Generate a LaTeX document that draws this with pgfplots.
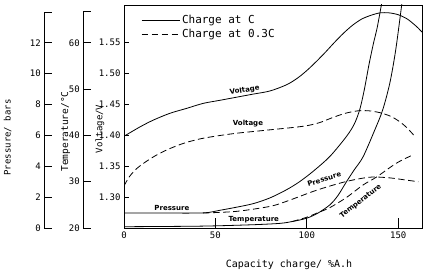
\documentclass[border=0pt]{standalone}
\usepackage{pgfplots}
\pgfplotsset{compat=1.18}
\usepackage{fontspec}
\setmainfont{DejaVu Sans Mono}
\newfontfamily\lab{DejaVu Sans}

\pgfplotsset{
  base/.style={scale only axis, anchor=south west,
    /pgf/number format/assume math mode=true,
    tick label style={font=\fontsize{9}{10}\selectfont},
    axis line style={line width=0.8pt}, every tick/.style={line width=0.8pt, black}},
  side/.style={base, width=20pt, hide x axis, axis y line=left,
    y axis line style={-}, xmin=0, xmax=1, tick align=inside, major tick length=8pt,
    extra y tick labels={}, clip=false},
  hidden/.style={scale only axis, anchor=south west, at={(124pt,43pt)}, width=298pt, height=223pt,
    xmin=0, xmax=163, hide axis},
  dashedline/.style={black, line width=0.8pt, smooth, dash pattern=on 6.5pt off 3.5pt},
  solidline/.style={black, line width=0.8pt, smooth},
}

\begin{document}
\begin{tikzpicture}
\useasboundingbox (0pt,0pt) rectangle (428pt,271pt);

% pressure axis
\begin{axis}[side, at={(44.3pt,43pt)}, height=216pt, ymin=0, ymax=14,
  ytick={0,2,4,6,8,10,12}, extra y ticks={14}]
\addplot[draw=none] coordinates {(0,0)};
\end{axis}

% temperature axis
\begin{axis}[side, at={(83.3pt,43pt)}, height=216.3pt, ymin=20, ymax=66.7,
  ytick={20,30,40,50,60}, extra y ticks={66.7}]
\addplot[draw=none] coordinates {(0,20)};
\end{axis}

% pressure curves
\begin{axis}[hidden, ymin=0, ymax=14.46]
\addplot[solidline] coordinates {
(0,0.97)(20,0.97)(43.3,0.98)(52.5,1.15)(61.6,1.35)(70.7,1.58)(79.8,1.95)(88.9,2.48)
(96,3.0)(103.4,3.67)(112.6,4.64)(121.7,5.94)(126,6.75)(129,7.7)(131.5,9.0)(134,10.6)
(136.5,12.0)(138.5,13.0)(140.8,14.48)(141.5,15.0)};
\addplot[dashedline] coordinates {
(43.3,0.97)(61.6,1.08)(79.8,1.40)(88.9,1.73)(103.4,2.37)(112.6,2.72)(121.7,3.02)
(130,3.22)(136.3,3.31)(145.4,3.25)(153.6,3.12)(161,3.0)};
\end{axis}

% temperature curves
\begin{axis}[hidden, ymin=20, ymax=68.16]
\addplot[solidline] coordinates {
(0,20.28)(41.5,20.4)(70,20.7)(85.2,21.0)(92,21.4)(99.8,22.1)(106,23.2)(112.6,25.0)
(117,27.0)(121.7,30.0)(126,32.6)(130.8,35.4)(137.2,41.2)(141.5,45.5)(145.4,51.3)
(148.6,58.4)(151.9,68.2)(152.3,69.5)};
\addplot[dashedline] coordinates {
(92,21.4)(99.8,22.3)(106,23.3)(112.6,24.4)(121.7,26.6)(130.8,29.3)(138.1,31.0)
(149,34.0)(158.1,35.8)};
\end{axis}

% main (voltage) axis
\begin{axis}[base, at={(124pt,43pt)}, width=298pt, height=223pt,
  xmin=0, xmax=163, ymin=1.25, ymax=1.6097,
  xtick={0,50,100,150}, ytick={1.30,1.35,1.40,1.45,1.50,1.55},
  yticklabel style={/pgf/number format/.cd, fixed, fixed zerofill, precision=2},
  tick pos=left, tick align=inside, major tick length=5pt,
  legend style={draw=none, fill=none, at={(0.047,0.972)}, anchor=north west,
    font=\fontsize{11}{13}\selectfont},
  legend cell align=left,
  legend image code/.code={\draw[#1] (0pt,0pt) -- (38pt,0pt);}]
\addplot[solidline] coordinates {
(0,1.398)(8.7,1.413)(16,1.424)(25.1,1.435)(34.3,1.443)(43.3,1.451)(52.5,1.456)
(61.6,1.461)(70.7,1.466)(79.8,1.471)(88.9,1.481)(95,1.492)(100,1.504)(105,1.518)
(110,1.533)(115,1.549)(120,1.564)(125,1.577)(130,1.587)(135,1.593)(140,1.597)
(145,1.597)(150,1.594)(155,1.587)(160,1.575)(163,1.566)};
\addlegendentry{Charge at C}
\addplot[dashedline] coordinates {
(0,1.318)(3,1.333)(7,1.346)(12,1.357)(18,1.368)(25,1.378)(33,1.387)(42,1.394)
(52,1.399)(62,1.403)(72,1.406)(82,1.409)(92,1.412)(100,1.415)(107,1.420)(114,1.428)
(121,1.435)(128,1.439)(134,1.439)(140,1.436)(146,1.430)(151,1.421)(155,1.411)(159,1.398)};
\addlegendentry{Charge at 0.3C}
\begin{scope}[every node/.style={font=\lab\bfseries\fontsize{7}{8}\selectfont, inner sep=0pt}]
\node[rotate=9] at (axis cs:66,1.472) {Voltage};
\node at (axis cs:67.8,1.419) {Voltage};
\node at (axis cs:26.2,1.283) {Pressure};
\node at (axis cs:71,1.264) {Temperature};
\node[rotate=17] at (axis cs:109.5,1.329) {Pressure};
\node[rotate=38] at (axis cs:129.5,1.293) {Temperature};
\end{scope}
\end{axis}

% longer x ticks
\begin{axis}[base, at={(124pt,43pt)}, width=298pt, height=223pt,
  xmin=0, xmax=163, ymin=0, ymax=1, axis line style={draw=none},
  xtick={50,100,150}, xticklabels={}, ytick=\empty, xtick pos=left,
  tick align=inside, major tick length=10pt]
\addplot[draw=none] coordinates {(0,0)};
\end{axis}

\node[rotate=90, font=\fontsize{9}{10}\selectfont] at (7.5pt,133.5pt) {Pressure/ bars};
\node[rotate=90, font=\fontsize{9.5}{10}\selectfont] at (65.5pt,139.5pt) {Temperature/°C};
\node[rotate=90, font=\fontsize{9}{10}\selectfont] at (100pt,142pt) {Voltage/V};
\node[font=\fontsize{10}{11}\selectfont] at (289pt,6pt) {Capacity charge/ \%A.h};
\end{tikzpicture}
\end{document}
